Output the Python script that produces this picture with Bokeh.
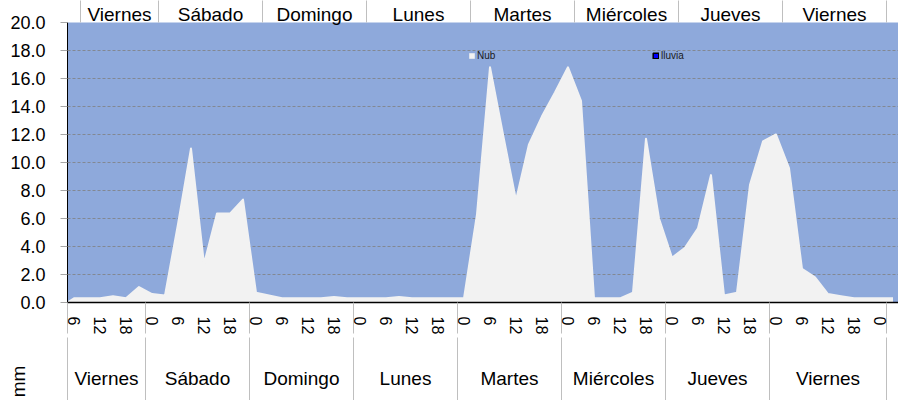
from math import pi
from bokeh.plotting import figure
from bokeh.models import (Range1d, FixedTicker, LinearAxis, NumeralTickFormatter,
                          Label, Legend, LegendItem)
from bokeh.embed import file_html
from bokeh.resources import INLINE

# ---------------- data ----------------
dias = ["Viernes", "Sábado", "Domingo", "Lunes", "Martes", "Miércoles", "Jueves", "Viernes"]
cats_por_dia = [6, 8, 8, 8, 8, 8, 8, 9]          # 3-hour categories in each bottom group
cabecera_dias = ["Viernes", "Sábado", "Domingo", "Lunes", "Martes", "Miércoles", "Jueves", "Viernes"]
cabecera_inicio = 1                               # header row starts one category later
cabecera_por_dia = [6, 8, 8, 8, 8, 8, 8, 8]
etiquetas_horas = ["6", "12", "18", "0", "6", "12", "18", "0",
                   "6", "12", "18", "0", "6", "12", "18", "0",
                   "6", "12", "18", "0", "6", "12", "18", "0",
                   "6", "12", "18", "0", "6", "12", "18", "0"]   # one label every 2 categories

nub_borde = 0.0
nub = [0.3, 0.3, 0.3, 0.45, 0.3, 1.1,
       0.6, 0.5, 5.6, 11.0, 2.75, 6.35, 6.35, 7.35,
       0.7, 0.5, 0.3, 0.3, 0.3, 0.3, 0.4, 0.3,
       0.3, 0.3, 0.3, 0.4, 0.3, 0.3, 0.3, 0.3,
       0.3, 6.3, 16.8, 12.0, 7.3, 11.3, 13.3, 15.0,
       16.8, 14.4, 0.3, 0.3, 0.3, 0.7, 11.7, 6.0,
       3.2, 3.9, 5.3, 9.1, 0.5, 0.7, 8.4, 11.5,
       12.0, 9.6, 2.4, 1.8, 0.6, 0.45, 0.3, 0.3, 0.3,
       0.3]
lluvia = [0.0, 0.0, 0.0, 0.0, 0.0, 0.0,
          0.0, 0.0, 0.0, 0.0, 0.0, 0.0, 0.0, 0.0,
          0.0, 0.0, 0.0, 0.0, 0.0, 0.0, 0.0, 0.0,
          0.0, 0.0, 0.0, 0.0, 0.0, 0.0, 0.0, 0.0,
          0.0, 0.0, 0.0, 0.0, 0.0, 0.0, 0.0, 0.0,
          0.0, 0.0, 0.0, 0.0, 0.0, 0.0, 0.0, 0.0,
          0.0, 0.0, 0.0, 0.0, 0.0, 0.0, 0.0, 0.0,
          0.0, 0.0, 0.0, 0.0, 0.0, 0.0, 0.0, 0.0, 0.0,
          0.0]
y_ticks = [0, 2, 4, 6, 8, 10, 12, 14, 16, 18, 20]

# ---------------- derived positions ----------------
FONT = "Liberation Sans"
N = len(nub)
x_cent = [i + 0.5 for i in range(N)]
x_area = [0.0] + x_cent
y_area = [nub_borde] + nub

sep_inf = [0]
for n in cats_por_dia:
    sep_inf.append(sep_inf[-1] + n)
cen_inf = [(a + b) / 2 for a, b in zip(sep_inf[:-1], sep_inf[1:])]

sep_sup = [cabecera_inicio]
for n in cabecera_por_dia:
    sep_sup.append(sep_sup[-1] + n)
cen_sup = [(a + b) / 2 for a, b in zip(sep_sup[:-1], sep_sup[1:])]

hora_ticks = [2 * k + 0.5 for k in range(len(etiquetas_horas))]

VIEW_W, H = 898, 400
SHIFT = 15                     # left panel (axis + "mm" title) is this much wider than wanted
LEFT = 67 + SHIFT
W = VIEW_W + SHIFT
TOP, FRAME_H = 22, 280
BOTTOM = H - TOP - FRAME_H
CAT_PX = 13
xr = Range1d(0, (W - LEFT) / CAT_PX)

p = figure(width=W, height=H, x_range=xr, y_range=Range1d(0, 20),
           output_backend="svg", toolbar_location=None,
           min_border_left=LEFT, min_border_right=0, min_border_top=TOP,
           min_border_bottom=BOTTOM)
p.margin = (0, 0, 0, -SHIFT)
p.background_fill_color = "#8EA9DB"
p.border_fill_color = "white"
p.outline_line_color = None

area = p.varea(x=x_area, y1=[0] * len(x_area), y2=y_area, fill_color="#F2F2F2")
p.line(x=x_area, y=y_area, line_color="#F2F2F2", line_width=2, line_join="round")
rain = p.vbar(x=x_cent, top=lluvia, width=0.8, fill_color="#0000FF",
              line_color="black", line_width=1.5)
rain.visible = False

# grid
p.xgrid.visible = False
p.ygrid.ticker = FixedTicker(ticks=y_ticks)
p.ygrid.grid_line_color = "#7F7F7F"
p.ygrid.grid_line_dash = "3 2"
p.ygrid.grid_line_alpha = 0.8

# y axis
yax = p.yaxis[0]
yax.ticker = FixedTicker(ticks=y_ticks)
yax.formatter = NumeralTickFormatter(format="0.0")
yax.axis_line_color = "black"
yax.major_tick_out = 7
yax.major_tick_in = 0
yax.major_tick_line_color = "#A6A6A6"
yax.minor_tick_line_color = None
yax.major_label_standoff = 15
yax.major_label_text_font = FONT
yax.major_label_text_font_size = "18px"
yax.major_label_text_color = "#000000"

# x axis (hours)
xax = p.xaxis[0]
xax.ticker = FixedTicker(ticks=hora_ticks, minor_ticks=sep_inf)
xax.major_label_overrides = {t: s for t, s in zip(hora_ticks, etiquetas_horas)}
xax.major_label_orientation = "vertical"
xax.major_tick_out = 0
xax.major_tick_in = 0
xax.minor_tick_out = 31
xax.minor_tick_in = 0
xax.minor_tick_line_color = "#BFBFBF"
xax.axis_line_color = "black"
xax.axis_line_width = 1.5
xax.major_label_standoff = -17
xax.major_label_text_font = FONT
xax.major_label_text_font_size = "16px"
xax.major_label_text_color = "#000000"

# x axis (days)
dax = LinearAxis(ticker=FixedTicker(ticks=cen_inf, minor_ticks=sep_inf))
dax.major_label_overrides = {t: s for t, s in zip(cen_inf, dias)}
dax.axis_line_color = None
dax.major_tick_out = 0
dax.major_tick_in = 0
dax.minor_tick_out = 66
dax.minor_tick_in = 0
dax.minor_tick_line_color = "#BFBFBF"
dax.major_label_standoff = -36
dax.major_label_text_font = FONT
dax.major_label_text_font_size = "19px"
dax.major_label_text_color = "#000000"
p.add_layout(dax, "below")

# header row (axis above the plot area)
hax = LinearAxis(ticker=FixedTicker(ticks=cen_sup, minor_ticks=sep_sup))
hax.major_label_overrides = {t: s for t, s in zip(cen_sup, cabecera_dias)}
hax.axis_line_color = None
hax.major_tick_out = 0
hax.major_tick_in = 0
hax.minor_tick_out = TOP
hax.minor_tick_in = 0
hax.minor_tick_line_color = "#BFBFBF"
hax.major_label_standoff = -24
hax.major_label_text_font = FONT
hax.major_label_text_font_size = "19px"
hax.major_label_text_color = "#000000"
p.add_layout(hax, "above")

# axis title "mm": outermost left panel (not clipped to the plot area)
mm = Label(x=17 + SHIFT, y=-79, x_units="screen", y_units="screen",
           text="mm", angle=pi / 2, text_align="center", text_baseline="middle",
           text_font=FONT, text_font_size="19px", text_color="#000000")
p.add_layout(mm, "left")

# legend entries
def make_legend(label, rend, loc):
    lg = Legend(items=[LegendItem(label=label, renderers=[rend])], location=loc,
                orientation="horizontal", padding=0, margin=0, spacing=0,
                glyph_width=7, glyph_height=7, label_height=10, label_width=10,
                label_standoff=2, label_text_font=FONT, label_text_font_size="10px",
                label_text_color="#1A1A1A",
                background_fill_alpha=0, border_line_color=None, click_policy="none")
    p.add_layout(lg)

make_legend("Nub", area, (401, 241))
make_legend("lluvia", rain, (585, 241))

open("out.html", "w").write(file_html(p, INLINE, title="Nubosidad"))
